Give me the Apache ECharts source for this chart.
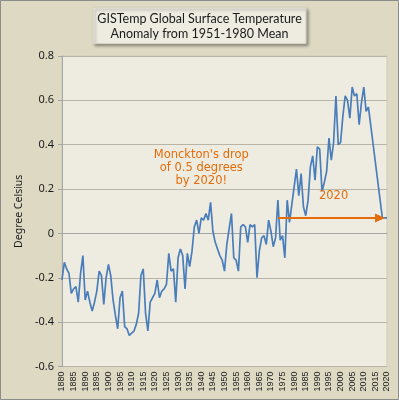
<!DOCTYPE html>
<html>
<head>
<meta charset="utf-8">
<script src="https://cdn.jsdelivr.net/npm/echarts@6/dist/echarts.min.js"></script>
<style>
html,body{margin:0;padding:0;background:#DDD9C3;}
#c{width:399px;height:400px;}
</style>
</head>
<body>
<div id="c"></div>
<script>
var startYear = 1880;
var endYear = 2020;
var yTicks = [-0.6, -0.4, -0.2, 0, 0.2, 0.4, 0.6, 0.8];
var anomaly = [
  -0.21, -0.13, -0.16, -0.18, -0.27, -0.25, -0.24, -0.31, -0.18, -0.10,
  -0.30, -0.26, -0.31, -0.35, -0.31, -0.26, -0.17, -0.19, -0.32, -0.20,
  -0.14, -0.19, -0.30, -0.37, -0.43, -0.29, -0.26, -0.42, -0.43, -0.46,
  -0.45, -0.44, -0.41, -0.36, -0.19, -0.16, -0.36, -0.44, -0.31, -0.29,
  -0.27, -0.21, -0.29, -0.26, -0.25, -0.23, -0.09, -0.17, -0.16, -0.31,
  -0.11, -0.07, -0.10, -0.25, -0.09, -0.15, -0.08, 0.03, 0.06, 0.00,
  0.07, 0.06, 0.09, 0.06, 0.14, 0.01, -0.04, -0.07, -0.10, -0.12,
  -0.17, -0.05, 0.02, 0.09, -0.11, -0.12, -0.17, 0.03, 0.04, 0.03,
  -0.04, 0.04, 0.03, 0.04, -0.20, -0.08, -0.02, -0.01, -0.05, 0.06,
  0.01, -0.06, -0.02, 0.15, -0.03, -0.01, -0.11, 0.15, 0.05, 0.13,
  0.21, 0.29, 0.17, 0.27, 0.12, 0.08, 0.15, 0.30, 0.35, 0.24,
  0.39, 0.38, 0.19, 0.23, 0.28, 0.43, 0.33, 0.41, 0.62, 0.40,
  0.41, 0.53, 0.62, 0.60, 0.52, 0.66, 0.62, 0.63, 0.49, 0.59,
  0.66, 0.55, 0.57, null, null, null, null, null, 0.07, 0.07,
  0.07
];
var years = [];
for (var y = startYear; y <= endYear; y++) years.push(String(y));

var arrowLevel = 0.07;
var arrowFrom = '1973';
var arrowTo = '2017';
var noteText = "Monckton's drop\nof 0.5 degrees\nby 2020!";
var noteAt = ['1940', 0.295];
var yearNote = '2020';
var yearNoteAt = ['1997', 0.17];
var orange = '#E46C0A';

var chart = echarts.init(document.getElementById('c'), null, {renderer: 'canvas'});
chart.setOption({
  backgroundColor: '#DDD9C3',
  animation: false,
  title: {
    text: 'GISTemp Global Surface Temperature\nAnomaly from 1951-1980 Mean',
    left: 'center',
    top: 7,
    padding: [4, 5, 3, 5],
    backgroundColor: '#EEECE1',
    borderColor: '#D8D4C4',
    borderWidth: 1,
    shadowColor: 'rgba(0,0,0,0.35)',
    shadowBlur: 3,
    shadowOffsetX: 2,
    shadowOffsetY: 2,
    textStyle: {
      fontFamily: 'Lato',
      fontSize: 12.5,
      fontWeight: 'normal',
      color: '#1a1a1a',
      lineHeight: 15
    }
  },
  graphic: [{
    type: 'rect',
    shape: {x: 0.5, y: 0.5, width: 398, height: 399},
    style: {fill: 'none', stroke: '#8C8C8C', lineWidth: 1},
    silent: true
  }],
  grid: {
    left: 62, right: 12, top: 56, bottom: 33.5,
    show: true,
    backgroundColor: '#EEECE1',
    borderColor: '#CFCBBB',
    borderWidth: 1
  },
  xAxis: {
    type: 'category',
    data: years,
    boundaryGap: false,
    axisLine: {lineStyle: {color: '#A6A6A6'}},
    axisTick: {show: false},
    axisLabel: {
      interval: 4,
      rotate: 90,
      margin: 5,
      fontFamily: 'Liberation Sans',
      fontSize: 9,
      color: '#1a1a1a'
    },
    splitLine: {show: false}
  },
  yAxis: {
    type: 'value',
    min: yTicks[0],
    max: yTicks[yTicks.length - 1],
    interval: 0.2,
    name: 'Degree Celsius',
    nameLocation: 'middle',
    nameGap: 33,
    nameRotate: 90,
    nameTextStyle: {fontFamily: 'Noto Sans', fontSize: 10.5, color: '#1a1a1a'},
    axisLine: {show: true, lineStyle: {color: '#A6A6A6'}},
    axisTick: {show: true, length: 4, lineStyle: {color: '#A6A6A6'}},
    axisLabel: {
      margin: 8,
      fontFamily: 'Noto Sans',
      fontSize: 11,
      color: '#1a1a1a',
      formatter: function (v) { return String(Math.round(v * 10) / 10); }
    },
    splitLine: {lineStyle: {color: '#B9B5A6', width: 1}}
  },
  series: [{
    type: 'line',
    data: anomaly,
    connectNulls: true,
    showSymbol: false,
    symbol: 'none',
    lineStyle: {color: '#4A7EBB', width: 1.7},
    markLine: {
      silent: true,
      symbol: ['none', 'triangle'],
      symbolSize: [9, 10],
      label: {show: false},
      lineStyle: {color: orange, width: 2, type: 'solid'},
      data: [[{coord: [arrowFrom, arrowLevel]}, {coord: [arrowTo, arrowLevel]}]]
    },
    markPoint: {
      silent: true,
      symbol: 'circle',
      symbolSize: 0,
      label: {
        show: true,
        position: 'inside',
        color: orange,
        fontFamily: 'DejaVu Sans',
        fontSize: 11.5,
        lineHeight: 13,
        align: 'center',
        verticalAlign: 'middle'
      },
      data: [
        {coord: noteAt, value: noteText, label: {formatter: noteText}},
        {coord: yearNoteAt, value: yearNote, label: {formatter: yearNote}}
      ]
    }
  }]
});
</script>
</body>
</html>
